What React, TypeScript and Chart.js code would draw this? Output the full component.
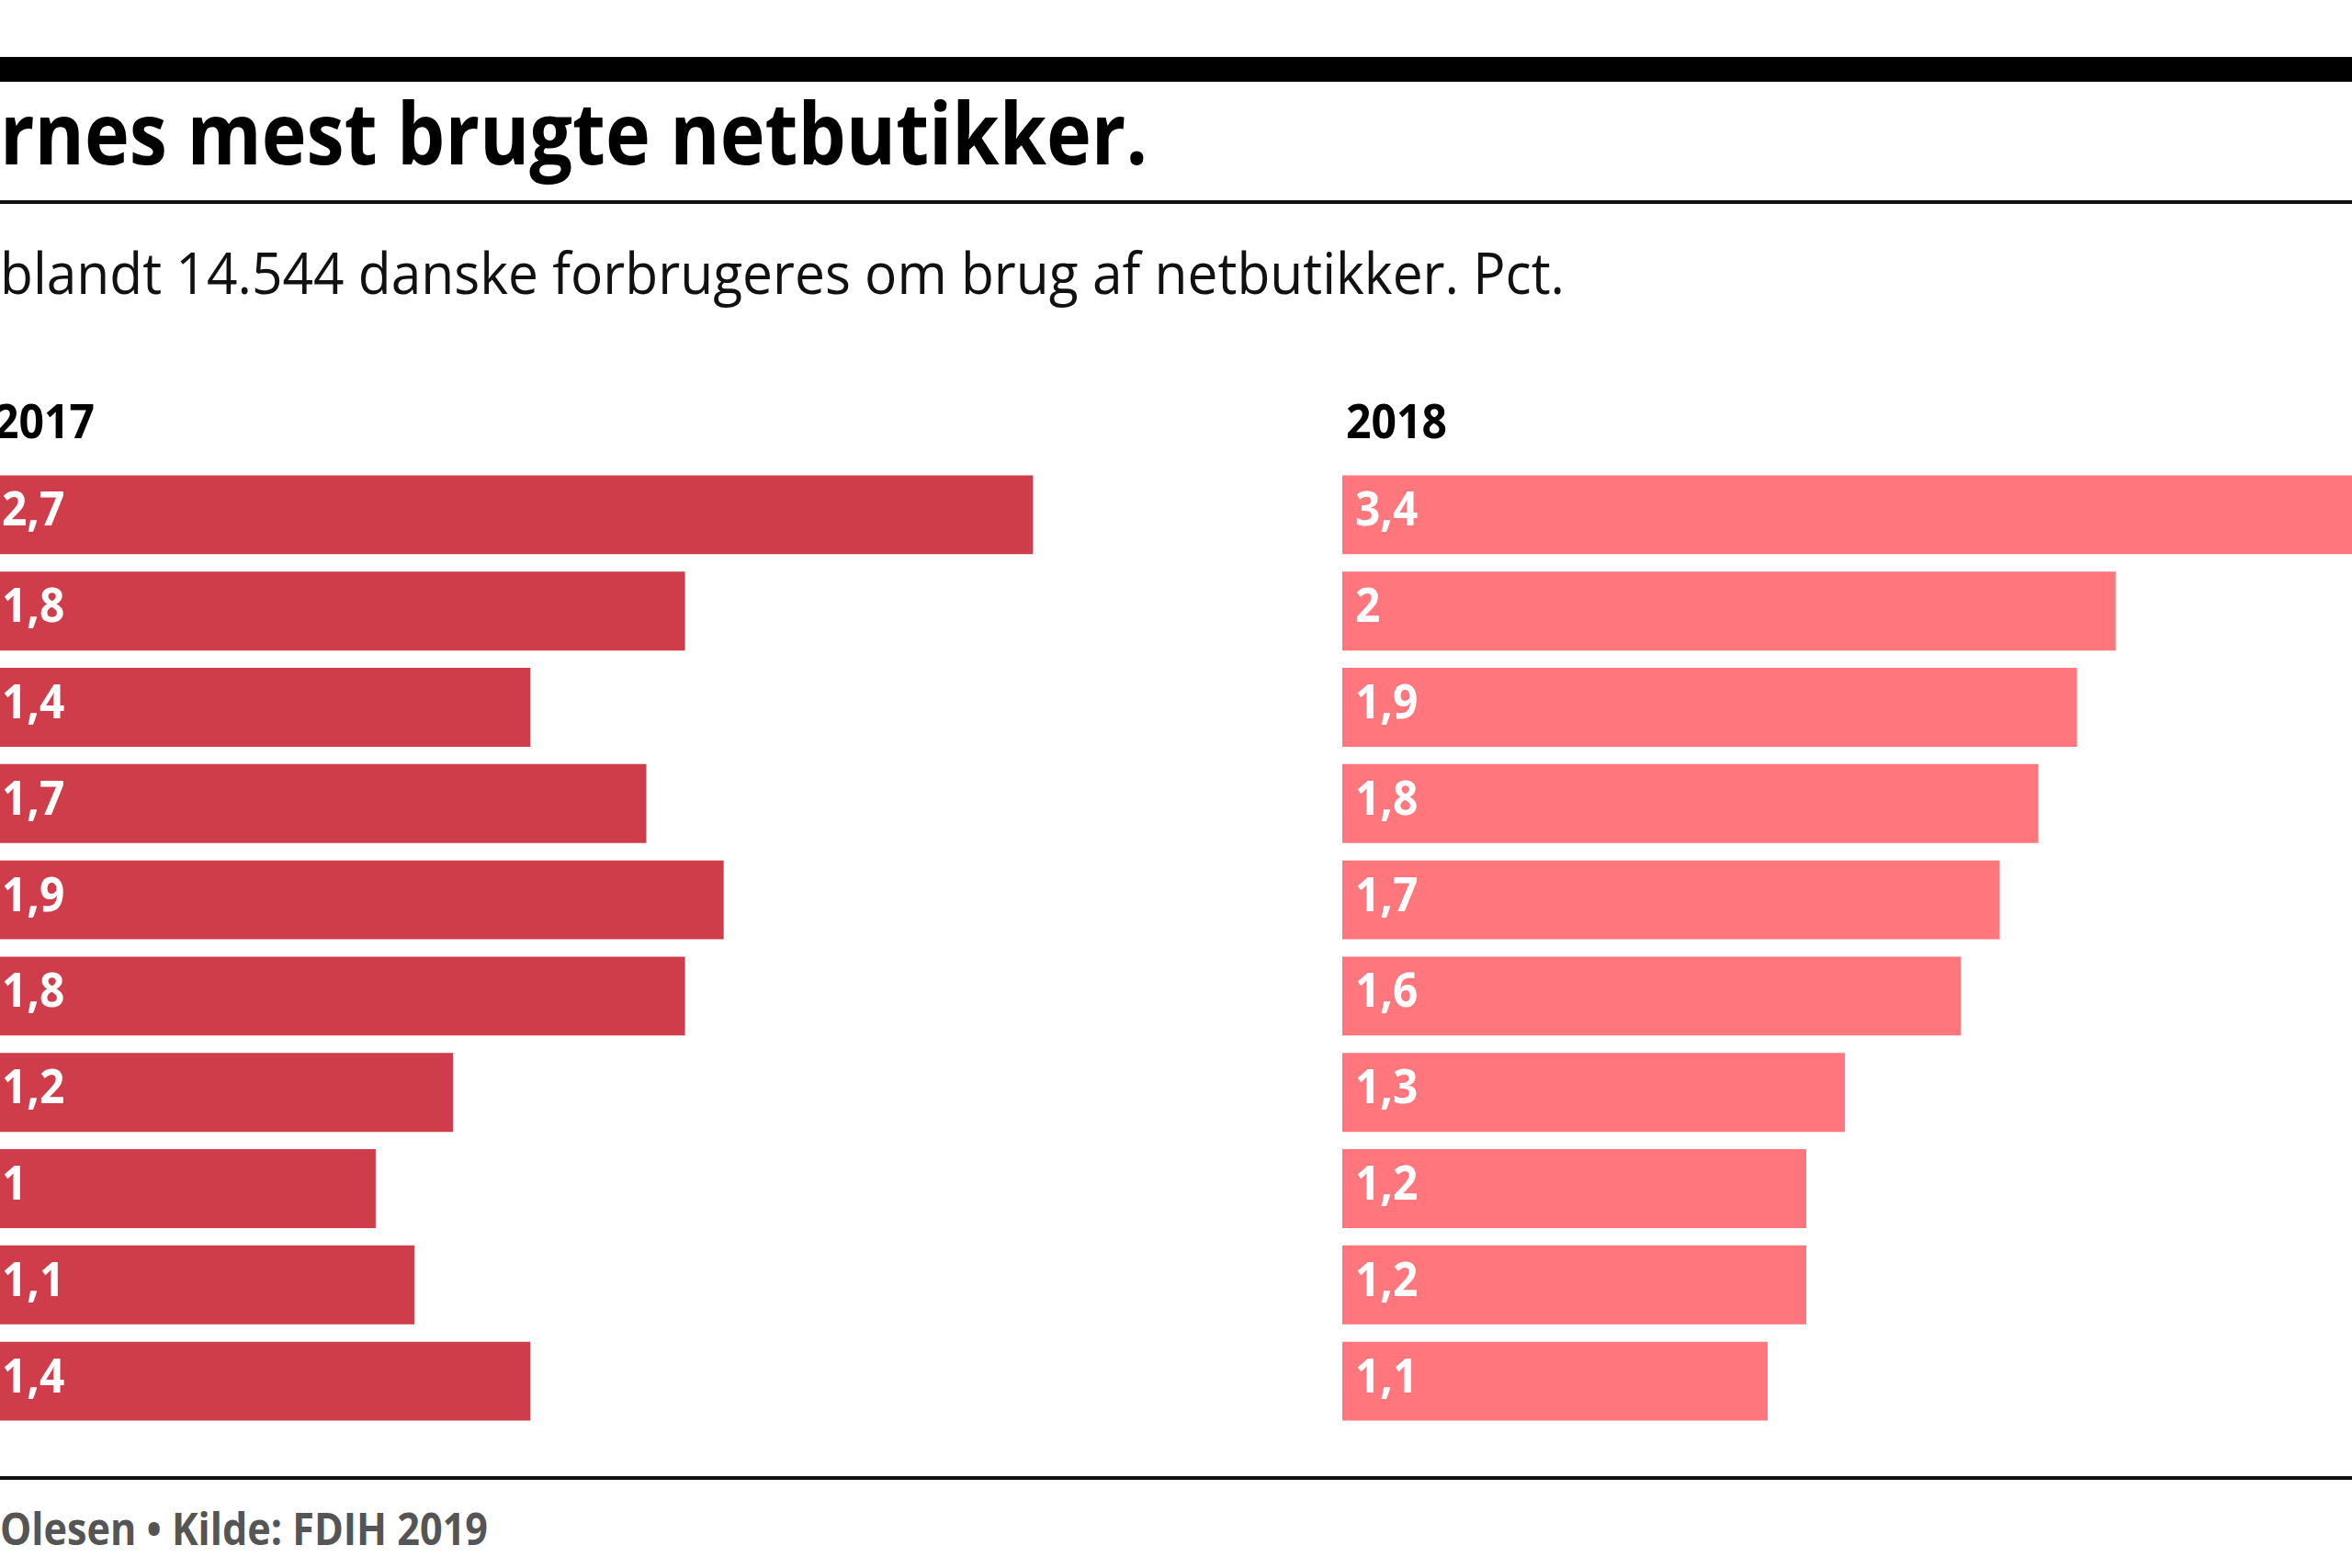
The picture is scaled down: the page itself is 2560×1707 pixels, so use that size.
import React, { useEffect, useLayoutEffect, useRef } from "react";
import { Chart, registerables } from "chart.js";

Chart.register(...registerables);

// ---- data ----
const categories: string[] = ["1", "2", "3", "4", "5", "6", "7", "8", "9", "10"];
const values2017: number[] = [2.7, 1.8, 1.4, 1.7, 1.9, 1.8, 1.2, 1, 1.1, 1.4];
const values2018: number[] = [3.4, 2, 1.9, 1.8, 1.7, 1.6, 1.3, 1.2, 1.2, 1.1];
const panelTitles: string[] = ["2017", "2018"];
const titleText = "rnes mest brugte netbutikker.";
const subtitleText = "blandt 14.544 danske forbrugeres om brug af netbutikker. Pct.";
const footerText = "Olesen \u2022 Kilde: FDIH 2019";

const COLOR_2017 = "#D03D4A";
const COLOR_2018 = "#FF777C";
const FONT = "'Open Sans', 'Noto Sans', sans-serif";

const X_MAX = 3.4;
const PX_PER_UNIT = 421;
const CANVAS_W = Math.round(X_MAX * PX_PER_UNIT);
const CANVAS_H = 1048;

type FitProps = {
  text: string;
  left: number;
  top: number;
  width: number;
  size: number;
  weight: number;
  color: string;
};

function FitText({ text, left, top, width, size, weight, color }: FitProps) {
  const ref = useRef<HTMLSpanElement>(null);
  useLayoutEffect(() => {
    const el = ref.current;
    if (!el) return;
    const fit = () => {
      el.style.transform = "none";
      const w = el.getBoundingClientRect().width;
      if (w > 0) el.style.transform = `scaleX(${width / w})`;
    };
    fit();
    if ((document as any).fonts && (document as any).fonts.ready) {
      (document as any).fonts.ready.then(fit);
    }
  }, [text, width]);
  return (
    <span
      ref={ref}
      style={{
        position: "absolute",
        left,
        top,
        display: "inline-block",
        whiteSpace: "nowrap",
        fontFamily: FONT,
        fontSize: size,
        fontWeight: weight,
        lineHeight: `${size}px`,
        color,
        transformOrigin: "left top",
      }}
    >
      {text}
    </span>
  );
}

const valueLabelPlugin = {
  id: "valueLabels",
  afterDatasetsDraw(chart: any) {
    const ctx = chart.ctx;
    const meta = chart.getDatasetMeta(0);
    const data = chart.data.datasets[0].data as number[];
    meta.data.forEach((el: any, i: number) => {
      const p = el.getProps(["x", "y", "base"], true);
      const label = String(data[i]).replace(".", ",");
      ctx.save();
      ctx.fillStyle = "#ffffff";
      ctx.font = `700 52px ${FONT}`;
      ctx.textAlign = "left";
      ctx.textBaseline = "alphabetic";
      ctx.translate(p.base + 14, p.y + 12);
      ctx.scale(0.92, 1);
      ctx.fillText(label, 0, 0);
      ctx.restore();
    });
  },
};

function BarPanel({ values, color, left, top }: { values: number[]; color: string; left: number; top: number }) {
  const ref = useRef<HTMLCanvasElement>(null);
  useEffect(() => {
    const canvas = ref.current;
    if (!canvas) return;
    const chart = new Chart(canvas, {
      type: "bar",
      data: {
        labels: categories,
        datasets: [
          {
            data: values,
            backgroundColor: color,
            borderWidth: 0,
            barPercentage: 0.82,
            categoryPercentage: 1,
          },
        ],
      },
      options: {
        indexAxis: "y",
        responsive: false,
        animation: false,
        devicePixelRatio: 1,
        layout: { padding: 0 },
        scales: {
          x: { min: 0, max: X_MAX, display: false },
          y: { display: false },
        },
        plugins: {
          legend: { display: false },
          tooltip: { enabled: false },
          title: { display: false },
        },
      },
      plugins: [valueLabelPlugin],
    });
    return () => chart.destroy();
  }, [values, color]);
  return (
    <div style={{ position: "absolute", left, top, width: CANVAS_W, height: CANVAS_H }}>
      <canvas ref={ref} width={CANVAS_W} height={CANVAS_H} style={{ width: CANVAS_W, height: CANVAS_H, display: "block" }} />
    </div>
  );
}

export default function App() {
  return (
    <div
      style={{
        position: "absolute",
        left: 0,
        top: 0,
        width: 2560,
        height: 1707,
        overflow: "hidden",
        background: "#ffffff",
      }}
    >
      <div style={{ position: "absolute", left: 0, top: 62, width: 2560, height: 27, background: "#000" }} />
      <FitText text={titleText} left={0} top={179 - 0.888 * 94} width={1249} size={94} weight={700} color="#000" />
      <div style={{ position: "absolute", left: 0, top: 218, width: 2560, height: 4, background: "#111" }} />
      <FitText text={subtitleText} left={0} top={320 - 0.888 * 62} width={1703} size={62} weight={400} color="#111" />

      <FitText text={panelTitles[0]} left={-7} top={477 - 0.888 * 52} width={110} size={52} weight={700} color="#000" />
      <FitText text={panelTitles[1]} left={1465} top={477 - 0.888 * 52} width={110} size={52} weight={700} color="#000" />

      <BarPanel values={values2017} color={COLOR_2017} left={-12} top={508} />
      <BarPanel values={values2018} color={COLOR_2018} left={1461} top={508} />

      <div style={{ position: "absolute", left: 0, top: 1607, width: 2560, height: 4, background: "#111" }} />
      <FitText text={footerText} left={0} top={1683 - 0.888 * 49} width={531} size={49} weight={700} color="#555" />
    </div>
  );
}
